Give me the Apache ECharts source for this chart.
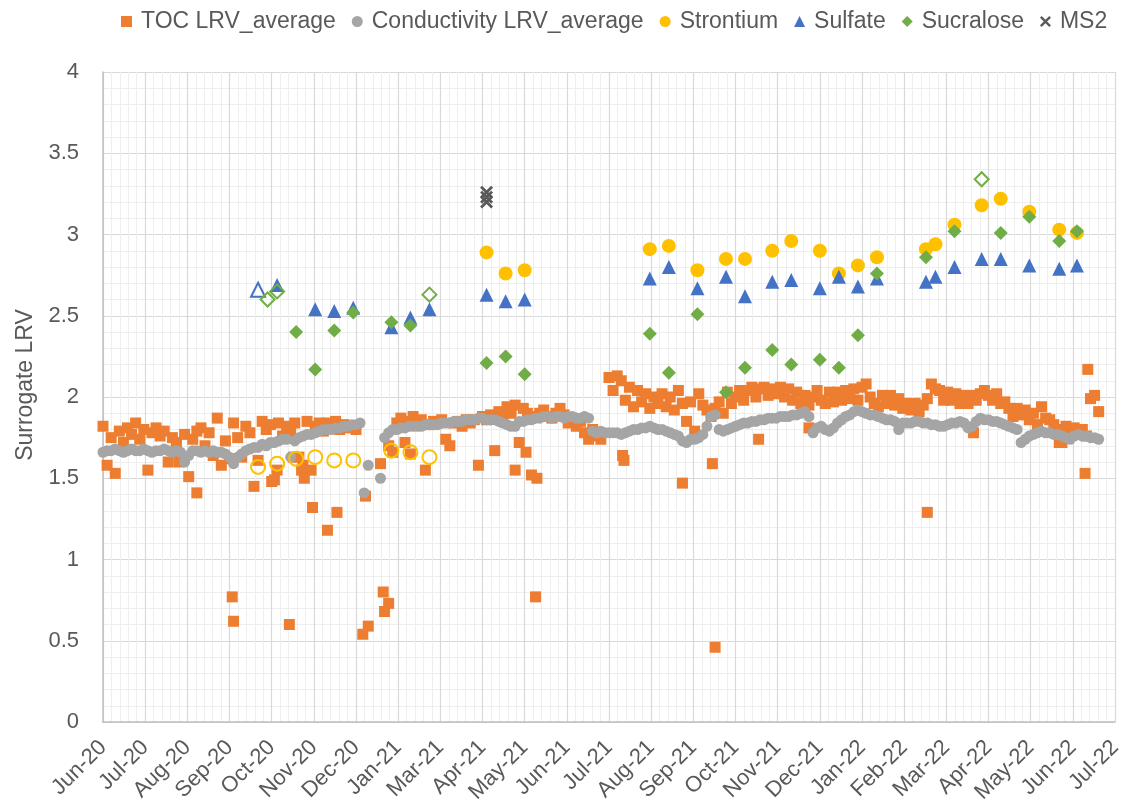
<!DOCTYPE html>
<html>
<head>
<meta charset="utf-8">
<title>Surrogate LRV</title>
<script src="https://cdn.jsdelivr.net/npm/echarts@6/dist/echarts.min.js"></script>
<style>
  html, body { margin: 0; padding: 0; background: #fff; }
  #chart { width: 1134px; height: 812px; }
</style>
</head>
<body>
<div id="chart"></div>
<script>
// ---- data ---------------------------------------------------------------
// Daily online surrogates, sampled every 3 days from the start date (null = no reading)
const dailyStart = '2020-06-27';
const dailyStepDays = 3;

const tocValues = [
  1.82,1.58,1.75,1.53,1.79,1.72,1.81,1.77,1.84,1.74,1.80,1.55,1.78,1.81,1.76,1.79,
  1.60,1.75,1.72,1.62,1.77,1.51,1.74,1.79,1.81,1.70,1.78,1.64,1.87,1.58,1.73,1.62,
  1.84,1.75,1.63,1.82,1.78,1.45,1.61,1.85,1.80,1.83,1.49,1.84,1.76,1.82,1.78,1.84,
  1.63,1.58,1.85,1.55,1.82,1.84,1.79,1.84,1.82,1.85,1.80,1.83,1.81,1.82,1.80,
  null,null,null,null,null,1.59,null,1.70,1.66,1.84,1.87,1.72,1.85,1.88,1.84,1.86,
  1.55,1.83,1.85,1.84,
  1.86,1.74,1.70,1.84,1.85,1.82,1.86,1.84,1.86,1.58,1.88,1.86,1.89,1.67,1.91,1.88,
  1.94,1.90,1.95,1.72,1.93,1.90,1.52,1.88,1.90,1.92,1.88,1.87,1.90,1.93,1.89,1.84,
  1.87,1.82,1.85,1.78,1.74,1.80,1.76,1.74,null,2.12,
  2.04,2.13,2.10,1.98,2.06,1.94,2.04,1.97,2.02,1.93,2.00,1.96,2.02,1.94,2.00,1.92,
  2.04,1.96,1.85,1.97,1.79,2.02,1.95,1.92,1.88,1.93,1.97,1.90,2.03,1.96,2.00,2.04,
  1.98,2.04,2.06,2.00,2.05,2.06,2.01,2.05,2.02,2.06,2.00,2.05,1.98,2.03,1.96,2.01,
  1.95,2.00,2.04,1.98,1.96,2.03,1.97,2.03,1.98,2.04,1.99,2.05,1.98,2.06,2.08,2.00,
  1.96,1.94,2.01,1.96,2.01,1.95,1.99,1.93,1.96,1.92,1.96,1.91,1.95,1.99,2.08,2.05,
  2.04,1.98,2.03,1.98,2.02,1.96,2.01,1.96,2.01,1.98,2.02,2.04,2.01,1.98,2.02,1.96,
  1.97,1.93,1.88,1.93,1.89,1.92,1.86,1.90,1.83,1.94,1.87,1.86,1.83,1.80,1.72,1.82,
  1.79,1.81,1.78,1.80,1.76,1.99,2.01,1.91
];

// Additional TOC readings that fall between the 3-day samples
const tocExtra = [
  ['2020-08-22',1.60],['2020-09-04',1.41],['2020-09-30',0.77],['2020-10-01',0.62],
  ['2020-10-29',1.48],['2020-11-02',1.55],['2020-11-11',0.60],['2020-11-14',1.63],
  ['2020-11-20',1.55],['2020-11-22',1.50],['2020-11-28',1.32],['2020-12-09',1.18],
  ['2020-12-16',1.29],['2021-01-04',0.54],['2021-01-06',1.39],['2021-01-08',0.59],
  ['2021-01-19',0.80],['2021-01-20',0.68],['2021-01-23',0.73],['2021-02-08',1.65],
  ['2021-04-26',1.55],['2021-05-04',1.66],['2021-05-11',0.77],['2021-05-12',1.50],
  ['2021-07-14',1.64],['2021-07-15',1.61],['2021-08-27',1.47],['2021-09-18',1.59],
  ['2021-09-20',0.46],['2021-10-22',1.74],['2021-11-28',1.81],['2022-02-23',1.29],
  ['2022-03-29',1.78],['2022-05-31',1.72],['2022-06-19',1.53],['2022-06-21',2.17]
];

const conductivityValues = [
  1.66,1.67,1.67,1.68,1.67,1.66,1.67,1.68,1.67,1.67,1.68,1.67,1.66,1.67,1.67,1.68,
  1.67,1.66,1.67,1.66,1.60,1.64,1.67,1.67,1.66,1.67,1.66,1.67,1.66,1.66,1.65,1.63,
  1.59,1.63,1.65,1.67,1.68,1.69,1.69,1.71,1.70,1.72,1.72,1.73,1.74,1.74,1.63,1.73,
  1.75,1.76,1.77,1.77,1.78,1.79,1.80,1.80,1.80,1.81,1.81,1.82,1.82,1.83,1.83,1.84,
  1.41,1.58,null,null,1.50,1.75,1.78,1.80,1.80,1.81,1.81,1.82,1.82,1.82,1.82,1.83,
  1.83,1.83,1.83,1.84,1.84,1.84,1.85,1.85,1.85,1.86,1.86,1.86,1.87,1.87,1.86,1.86,
  1.86,1.85,1.84,1.83,1.82,1.82,1.85,1.85,1.86,1.86,1.87,1.87,1.88,1.88,1.87,1.88,
  1.88,1.87,1.88,1.88,1.87,1.87,1.88,1.87,1.79,1.78,1.79,1.78,1.78,1.78,1.78,1.77,
  1.78,1.79,1.80,1.80,1.81,1.81,1.82,1.81,1.80,1.80,1.79,1.78,1.77,1.76,1.73,1.72,
  1.74,1.74,1.75,1.77,1.82,1.88,1.89,1.80,1.79,1.80,1.81,1.82,1.83,1.84,1.84,1.85,
  1.85,1.86,1.86,1.87,1.87,1.87,1.88,1.88,1.88,1.89,1.89,1.90,1.91,1.88,1.78,1.81,
  1.82,1.80,1.79,1.81,1.84,1.86,1.88,1.89,1.91,1.92,1.91,1.90,1.89,1.89,1.88,1.87,
  1.86,1.86,1.85,1.80,1.84,1.84,1.84,1.85,1.85,1.84,1.84,1.83,1.83,1.82,1.82,1.83,
  1.84,1.84,1.85,1.84,1.81,1.82,1.85,1.87,1.86,1.86,1.85,1.85,1.84,1.83,1.82,1.81,
  1.80,1.72,1.74,1.76,1.77,1.78,1.79,1.78,1.78,1.77,1.77,1.76,1.75,1.74,1.76,1.77,
  1.76,1.76,1.75,1.75,1.74
];

// Grab samples: [date, LRV, open]  (open = hollow marker)
const strontium = [
  ['2020-10-19',1.57,true],['2020-11-02',1.59,true],['2020-11-16',1.62,true],
  ['2020-11-30',1.63,true],['2020-12-14',1.61,true],['2020-12-28',1.61,true],
  ['2021-01-25',1.67,true],['2021-02-08',1.66,true],['2021-02-22',1.63,true],
  ['2021-04-05',2.89],['2021-04-19',2.76],['2021-05-03',2.78],['2021-08-03',2.91],
  ['2021-08-17',2.93],['2021-09-07',2.78],['2021-09-28',2.85],['2021-10-12',2.85],
  ['2021-11-01',2.90],['2021-11-15',2.96],['2021-12-06',2.90],['2021-12-20',2.76],
  ['2022-01-03',2.81],['2022-01-17',2.86],['2022-02-22',2.91],['2022-03-01',2.94],
  ['2022-03-15',3.06],['2022-04-04',3.18],['2022-04-18',3.22],['2022-05-09',3.14],
  ['2022-05-31',3.03],['2022-06-13',3.01]
];

const sulfate = [
  ['2020-10-19',2.66,true],['2020-11-02',2.69],['2020-11-30',2.54],['2020-12-14',2.53],
  ['2020-12-28',2.55],['2021-01-25',2.43],['2021-02-08',2.49],['2021-02-22',2.54],
  ['2021-04-05',2.63],['2021-04-19',2.59],['2021-05-03',2.60],['2021-08-03',2.73],
  ['2021-08-17',2.80],['2021-09-07',2.67],['2021-09-28',2.74],['2021-10-12',2.62],
  ['2021-11-01',2.71],['2021-11-15',2.72],['2021-12-06',2.67],['2021-12-20',2.74],
  ['2022-01-03',2.68],['2022-01-17',2.73],['2022-02-22',2.71],['2022-03-01',2.74],
  ['2022-03-15',2.80],['2022-04-04',2.85],['2022-04-18',2.85],['2022-05-09',2.81],
  ['2022-05-31',2.79],['2022-06-13',2.81]
];

const sucralose = [
  ['2020-10-26',2.60,true],['2020-11-02',2.65,true],['2020-11-16',2.40],['2020-11-30',2.17],
  ['2020-12-14',2.41],['2020-12-28',2.52],['2021-01-25',2.46],['2021-02-08',2.44],
  ['2021-02-22',2.63,true],['2021-04-05',2.21],['2021-04-19',2.25],['2021-05-03',2.14],
  ['2021-08-03',2.39],['2021-08-17',2.15],['2021-09-07',2.51],['2021-09-28',2.03],
  ['2021-10-12',2.18],['2021-11-01',2.29],['2021-11-15',2.20],['2021-12-06',2.23],
  ['2021-12-20',2.18],['2022-01-03',2.38],['2022-01-17',2.76],['2022-02-22',2.86],
  ['2022-03-15',3.02],['2022-04-04',3.34,true],['2022-04-18',3.01],['2022-05-09',3.11],
  ['2022-05-31',2.96],['2022-06-13',3.02]
];

const ms2 = [['2021-04-05',3.26],['2021-04-05',3.23],['2021-04-05',3.20]];

const monthNames = ['Jan','Feb','Mar','Apr','May','Jun','Jul','Aug','Sep','Oct','Nov','Dec'];
const yTicks = { min: 0, max: 4, step: 0.5 };

// ---- axis helpers -------------------------------------------------------
// x values are days counted from the first axis tick; ticks every 31 days
const AXIS_ORIGIN = Date.UTC(2020, 5, 27);
const TICK_DAYS = 31;
const TICK_COUNT = 24;
const DAY_MS = 86400000;

function dayOf(s) {
  const p = s.split('-').map(Number);
  return (Date.UTC(p[0], p[1] - 1, p[2]) - AXIS_ORIGIN) / DAY_MS;
}
function tickLabel(v) {
  const d = new Date(AXIS_ORIGIN + v * DAY_MS);
  return monthNames[d.getUTCMonth()] + '-' + String(d.getUTCFullYear()).slice(2);
}
function dailySeries(values) {
  const s = dayOf(dailyStart);
  const out = [];
  values.forEach((v, i) => { if (v !== null) out.push([s + i * dailyStepDays, v]); });
  return out;
}
function sampleSeries(rows, color) {
  return rows.map(r => {
    const item = { value: [dayOf(r[0]), r[1]] };
    if (r[2]) {
      item.itemStyle = { color: 'rgba(255,255,255,0)', borderColor: color, borderWidth: 2 };
    }
    return item;
  });
}

// ---- chart --------------------------------------------------------------
const C = {
  toc: '#ED7D31', cond: '#A5A5A5', sr: '#FFC000',
  so4: '#4472C4', suc: '#70AD47', ms2: '#595959'
};
const FONT = '"Liberation Sans", Arial, sans-serif';
const CROSS = 'path://M0,1.5 L1.5,0 L5,3.5 L8.5,0 L10,1.5 L6.5,5 L10,8.5 L8.5,10 L5,6.5 L1.5,10 L0,8.5 L3.5,5 Z';

const chart = echarts.init(document.getElementById('chart'), null, { renderer: 'canvas' });

chart.setOption({
  animation: false,
  backgroundColor: '#fff',
  textStyle: { fontFamily: FONT },
  legend: {
    top: 5,
    left: 116,
    itemWidth: 11,
    itemHeight: 11,
    itemGap: 16,
    textStyle: { fontSize: 23, color: '#595959', fontFamily: FONT, padding: [0, 0, 0, 4] },
    data: [
      { name: 'TOC LRV_average', icon: 'rect' },
      { name: 'Conductivity LRV_average', icon: 'circle' },
      { name: 'Strontium', icon: 'circle' },
      { name: 'Sulfate', icon: 'triangle' },
      { name: 'Sucralose', icon: 'diamond' },
      { name: 'MS2', icon: CROSS }
    ]
  },
  grid: { left: 103, right: 19, top: 72, bottom: 90, containLabel: false },
  xAxis: {
    type: 'value',
    min: 0,
    max: TICK_DAYS * TICK_COUNT,
    interval: TICK_DAYS,
    axisLine: { show: true, lineStyle: { color: '#BFBFBF', width: 1.5 } },
    axisTick: { show: false },
    axisLabel: {
      rotate: 45,
      margin: 22,
      fontSize: 22,
      color: '#595959',
      fontFamily: FONT,
      formatter: tickLabel
    },
    splitLine: { show: true, lineStyle: { color: '#D9D9D9', width: 1.2 } },
    minorTick: { show: false, splitNumber: 5 },
    minorSplitLine: { show: true, lineStyle: { color: '#EEEEEE', width: 1 } }
  },
  yAxis: {
    type: 'value',
    min: yTicks.min,
    max: yTicks.max,
    interval: yTicks.step,
    name: 'Surrogate LRV',
    nameLocation: 'middle',
    nameGap: 62,
    nameTextStyle: { fontSize: 23, color: '#595959', fontFamily: FONT, padding: [0, 0, 0, 24] },
    axisLine: { show: true, lineStyle: { color: '#BFBFBF', width: 1.5 } },
    axisTick: { show: false },
    axisLabel: { margin: 24, fontSize: 22, color: '#595959', fontFamily: FONT },
    splitLine: { show: true, lineStyle: { color: '#D9D9D9', width: 1.2 } },
    minorTick: { show: false, splitNumber: 5 },
    minorSplitLine: { show: true, lineStyle: { color: '#EEEEEE', width: 1 } }
  },
  series: [
    {
      name: 'TOC LRV_average', type: 'scatter', symbol: 'rect', symbolSize: 11,
      itemStyle: { color: C.toc, opacity: 1 },
      data: dailySeries(tocValues).concat(tocExtra.map(r => [dayOf(r[0]), r[1]])),
      z: 2
    },
    {
      name: 'Conductivity LRV_average', type: 'scatter', symbol: 'circle', symbolSize: 11,
      itemStyle: { color: C.cond, opacity: 1 },
      data: dailySeries(conductivityValues),
      z: 3
    },
    {
      name: 'Strontium', type: 'scatter', symbol: 'circle', symbolSize: 14,
      itemStyle: { color: C.sr, opacity: 1 },
      data: sampleSeries(strontium, C.sr),
      z: 4
    },
    {
      name: 'Sulfate', type: 'scatter', symbol: 'triangle', symbolSize: 14,
      itemStyle: { color: C.so4, opacity: 1 },
      data: sampleSeries(sulfate, C.so4),
      z: 5
    },
    {
      name: 'Sucralose', type: 'scatter', symbol: 'diamond', symbolSize: 14,
      itemStyle: { color: C.suc, opacity: 1 },
      data: sampleSeries(sucralose, C.suc),
      z: 6
    },
    {
      name: 'MS2', type: 'scatter', symbol: CROSS, symbolSize: 13,
      itemStyle: { color: C.ms2, opacity: 1 },
      data: ms2.map(r => [dayOf(r[0]), r[1]]),
      z: 7
    }
  ]
});
</script>
</body>
</html>
